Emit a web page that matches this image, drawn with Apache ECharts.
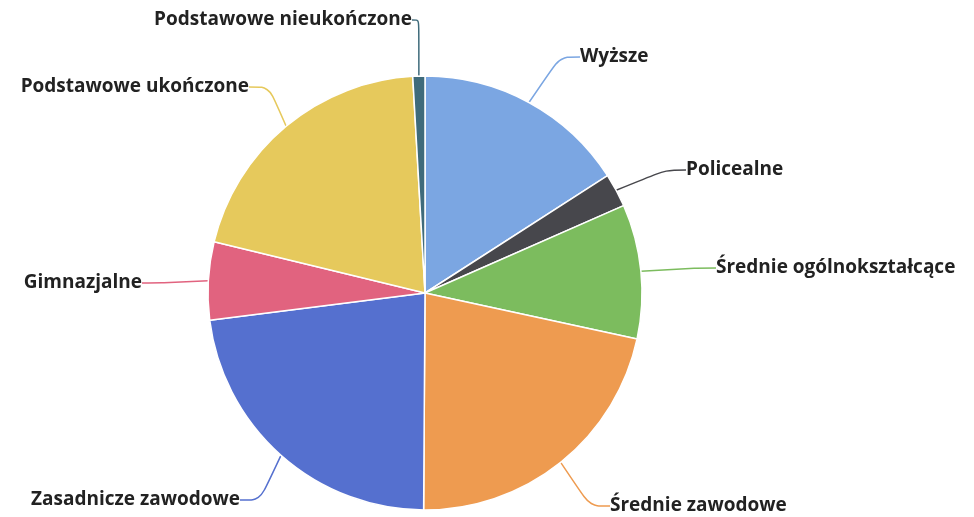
<!DOCTYPE html>
<html><head><meta charset="utf-8">
<script src="https://cdn.jsdelivr.net/npm/echarts@6/dist/echarts.min.js"></script>
<style>html,body{margin:0;padding:0;background:#fff}#c{width:974px;height:517px}</style>
</head><body><div id="c"></div>
<script>
const categories = ['Wyższe','Policealne','Średnie ogólnokształcące','Średnie zawodowe','Zasadnicze zawodowe','Gimnazjalne','Podstawowe ukończone','Podstawowe nieukończone'];
const values = [15.9, 2.5, 10.0, 21.7, 22.9, 5.8, 20.3, 0.9];
const colors = ['#7ba6e2','#47474c','#7cbc5e','#ee9b50','#5570cf','#e1637f','#e6c95c','#3f6b7b'];
const labelPos = [[580,57,'left'],[686,170,'left'],[716,268,'left'],[610,506,'left'],[240,500,'right'],[142,283,'right'],[249,87,'right'],[412,20,'right']];
const chart = echarts.init(document.getElementById('c'));
chart.setOption({
  animation:false,
  series:[{
    type:'pie',
    center:[425,293],
    radius:217,
    startAngle:90,
    clockwise:true,
    data: categories.map((n,i)=>({name:n,value:values[i],itemStyle:{color:colors[i]}})),
    itemStyle:{borderColor:'#fff',borderWidth:1.5},
    label:{show:true,formatter:'{b}',color:'#222',fontFamily:'Open Sans',fontWeight:'bold',fontSize:19},
    labelLine:{show:true,smooth:true,length:20,length2:20,lineStyle:{width:1.5}},
    labelLayout:function(p){
      const q = labelPos[p.dataIndex];
      return {x:q[0], y:q[1], align:q[2], verticalAlign:'middle'};
    }
  }]
});
</script></body></html>
